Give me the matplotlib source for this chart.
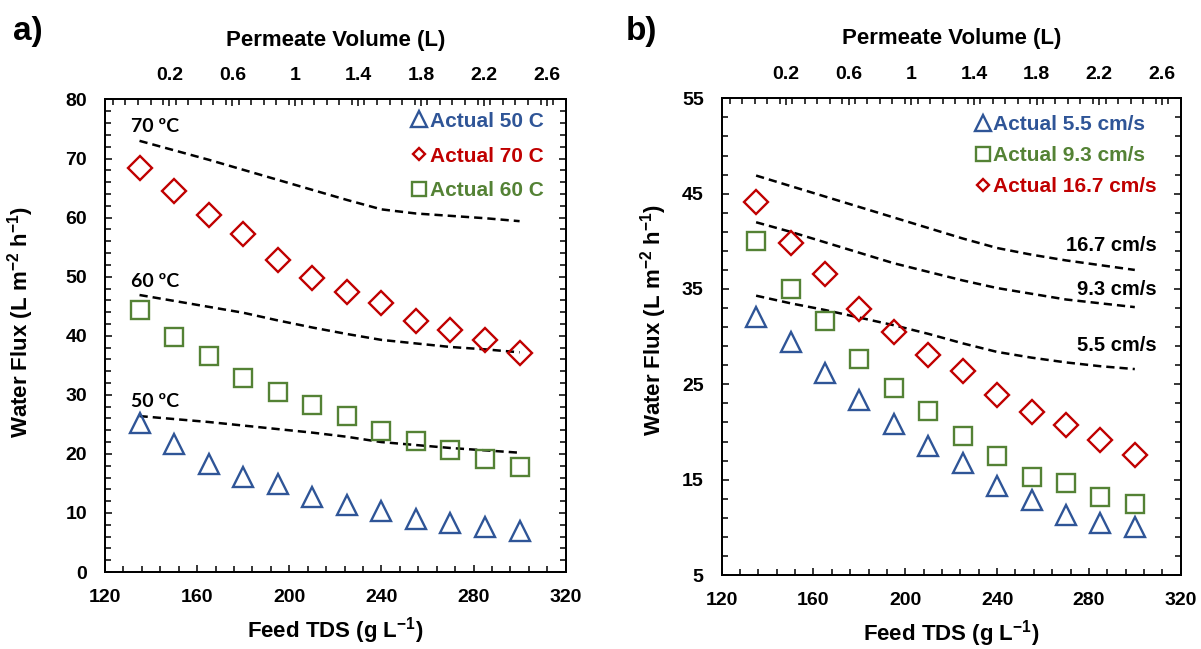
import matplotlib
matplotlib.use("Agg")
import matplotlib.pyplot as plt
from matplotlib.lines import Line2D
from matplotlib.ticker import MultipleLocator, FixedLocator

plt.rcParams['font.family'] = ['Liberation Sans', 'DejaVu Sans']
plt.rcParams['font.weight'] = 'bold'
plt.rcParams['mathtext.fontset'] = 'custom'
plt.rcParams['mathtext.rm'] = 'Liberation Sans:bold'
plt.rcParams['mathtext.bf'] = 'Liberation Sans:bold'
plt.rcParams['mathtext.default'] = 'rm'

# feed TDS (g/L), same for every series
tds = [135, 150, 165, 180, 195, 210, 225, 240, 255, 270, 285, 300]

# panel a) temperature
flux_50 = [25.3, 21.7, 18.3, 16.1, 14.9, 12.7, 11.4, 10.3, 9.0, 8.3, 7.6, 7.0]
flux_70 = [68.4, 64.5, 60.5, 57.2, 52.8, 49.7, 47.4, 45.6, 42.5, 40.9, 39.2, 37.1]
flux_60 = [44.3, 39.8, 36.6, 32.9, 30.5, 28.2, 26.4, 23.9, 22.2, 20.7, 19.1, 17.7]
model_70 = [73.0, 71.4, 69.8, 68.1, 66.4, 64.7, 63.0, 61.4, 60.7, 60.3, 59.9, 59.4]
model_60 = [46.9, 45.9, 44.9, 43.9, 42.6, 41.4, 40.3, 39.3, 38.7, 38.1, 37.7, 37.2]
model_50 = [26.4, 25.9, 25.4, 24.8, 24.2, 23.6, 22.9, 22.0, 21.5, 21.0, 20.6, 20.2]
temp_labels = ['70 ºC', '60 ºC', '50 ºC']
temp_label_y = [75.4, 49.2, 28.8]

# panel b) crossflow velocity
flux_55 = [32.1, 29.4, 26.2, 23.4, 20.8, 18.5, 16.8, 14.3, 12.9, 11.3, 10.5, 10.0]
flux_93 = [40.0, 35.0, 31.6, 27.7, 24.6, 22.2, 19.6, 17.5, 15.3, 14.7, 13.2, 12.5]
flux_167 = [44.1, 39.8, 36.6, 32.9, 30.5, 28.1, 26.4, 23.9, 22.1, 20.7, 19.2, 17.6]
model_167 = [46.9, 45.8, 44.7, 43.6, 42.5, 41.4, 40.3, 39.3, 38.6, 38.0, 37.5, 37.0]
model_93 = [42.0, 41.0, 39.9, 38.8, 37.7, 36.8, 35.9, 35.1, 34.5, 33.9, 33.5, 33.1]
model_55 = [34.3, 33.5, 32.8, 32.0, 31.2, 30.3, 29.3, 28.4, 27.8, 27.3, 26.9, 26.6]
vel_labels = ['16.7 cm/s', '9.3 cm/s', '5.5 cm/s']
vel_label_y = [39.6, 34.9, 29.1]

vol_ticks = [0.2, 0.6, 1.0, 1.4, 1.8, 2.2, 2.6]
vol_tick_labels = ['0.2', '0.6', '1', '1.4', '1.8', '2.2', '2.6']

BLUE = '#2F5597'
RED = '#C00000'
GREEN = '#548235'

fig = plt.figure(figsize=(12.01, 6.49), dpi=100)
axa = fig.add_axes([0.0874, 0.1186, 0.3836, 0.7281])
axb = fig.add_axes([0.6009, 0.1140, 0.3822, 0.7345])


def style_axes(ax, ylim, yticks):
    ax.set_xlim(120, 320)
    ax.set_ylim(*ylim)
    ax.xaxis.set_major_locator(MultipleLocator(40))
    ax.xaxis.set_minor_locator(MultipleLocator(8))
    ax.yaxis.set_major_locator(FixedLocator(yticks))
    ax.yaxis.set_minor_locator(FixedLocator(range(ylim[0], ylim[1] + 1, 2)))
    ax.tick_params(which='both', direction='in', right=True, width=1.1,
                   labelsize=14, colors='black')
    ax.tick_params(which='major', length=5)
    ax.tick_params(which='minor', length=4)
    ax.tick_params(axis='x', pad=12)
    ax.tick_params(axis='y', pad=13)
    for s in ax.spines.values():
        s.set_linewidth(1.3)
    ax.set_xlabel('Feed TDS (g L$^{-1}$)', fontsize=16, fontweight='bold', labelpad=7)
    ax.set_ylabel('Water Flux (L m$^{-2}$ h$^{-1}$)', fontsize=16, fontweight='bold')

    top = ax.twiny()
    top.set_xlim(-0.21, 2.72)
    top.xaxis.set_major_locator(FixedLocator(vol_ticks))
    top.set_xticklabels(vol_tick_labels)
    top.xaxis.set_minor_locator(MultipleLocator(0.08))
    top.tick_params(which='both', direction='in', width=1.1, labelsize=14, pad=11)
    top.tick_params(which='major', length=5)
    top.tick_params(which='minor', length=4)
    for s in top.spines.values():
        s.set_linewidth(1.3)
    top.set_xlabel('Permeate Volume (L)', fontsize=16, fontweight='bold')
    top.xaxis.set_label_coords(0.5, 1.113)
    return top


mk = dict(linestyle='none', markerfacecolor='none', markeredgewidth=1.7)
dash = dict(color='black', linewidth=1.8, dashes=(3.3, 2.0))

# ---- panel a
style_axes(axa, (0, 80), range(0, 81, 10))
axa.yaxis.set_label_coords(-0.15, 0.53)
axa.plot(tds, model_70, **dash)
axa.plot(tds, model_60, **dash)
axa.plot(tds, model_50, **dash)
axa.plot(tds, flux_50, marker='^', ms=14.5, markeredgecolor=BLUE, **mk)
axa.plot(tds, flux_70, marker='D', ms=12.5, markeredgecolor=RED, **mk)
axa.plot(tds, flux_60, marker='s', ms=13.5, markeredgecolor=GREEN, **mk)
for lab, yy in zip(temp_labels, temp_label_y):
    axa.text(131.5, yy, lab, fontsize=14, fontweight='bold', family=['Lato', 'DejaVu Sans'],
             ha='left', va='center')

handles_a = [
    Line2D([], [], marker='^', ms=12, markeredgecolor=BLUE, **mk),
    Line2D([], [], marker='D', ms=6.5, markeredgecolor=RED, **mk),
    Line2D([], [], marker='s', ms=10, markeredgecolor=GREEN, **mk),
]
leg = axa.legend(handles_a, ['Actual 50 C', 'Actual 70 C', 'Actual 60 C'],
                 loc='upper right', bbox_to_anchor=(0.952, 0.974), frameon=False,
                 fontsize=15, handlelength=0.7, handletextpad=0.15, labelspacing=0.76,
                 borderpad=0, borderaxespad=0)
for t, c in zip(leg.get_texts(), [BLUE, RED, GREEN]):
    t.set_color(c)
    t.set_fontweight('bold')

# ---- panel b
style_axes(axb, (5, 55), range(5, 56, 10))
axb.yaxis.set_label_coords(-0.115, 0.535)
axb.plot(tds, model_167, **dash)
axb.plot(tds, model_93, **dash)
axb.plot(tds, model_55, **dash)
axb.plot(tds, flux_55, marker='^', ms=14.5, markeredgecolor=BLUE, **mk)
axb.plot(tds, flux_93, marker='s', ms=13.5, markeredgecolor=GREEN, **mk)
axb.plot(tds, flux_167, marker='D', ms=12.5, markeredgecolor=RED, **mk)
for lab, yy in zip(vel_labels, vel_label_y):
    axb.text(309.7, yy, lab, fontsize=14.5, fontweight='bold', ha='right', va='center')

handles_b = [
    Line2D([], [], marker='^', ms=12, markeredgecolor=BLUE, **mk),
    Line2D([], [], marker='s', ms=10, markeredgecolor=GREEN, **mk),
    Line2D([], [], marker='D', ms=6.5, markeredgecolor=RED, **mk),
]
leg = axb.legend(handles_b, ['Actual 5.5 cm/s', 'Actual 9.3 cm/s', 'Actual 16.7 cm/s'],
                 loc='upper right', bbox_to_anchor=(0.948, 0.964), frameon=False,
                 fontsize=15, handlelength=0.7, handletextpad=0.15, labelspacing=0.56,
                 borderpad=0, borderaxespad=0)
for t, c in zip(leg.get_texts(), [BLUE, GREEN, RED]):
    t.set_color(c)
    t.set_fontweight('bold')

fig.text(0.011, 0.951, 'a)', fontsize=24, fontweight='bold', va='center', ha='left')
fig.text(0.521, 0.951, 'b)', fontsize=24, fontweight='bold', va='center', ha='left')

fig.savefig('out.png', dpi=100)
